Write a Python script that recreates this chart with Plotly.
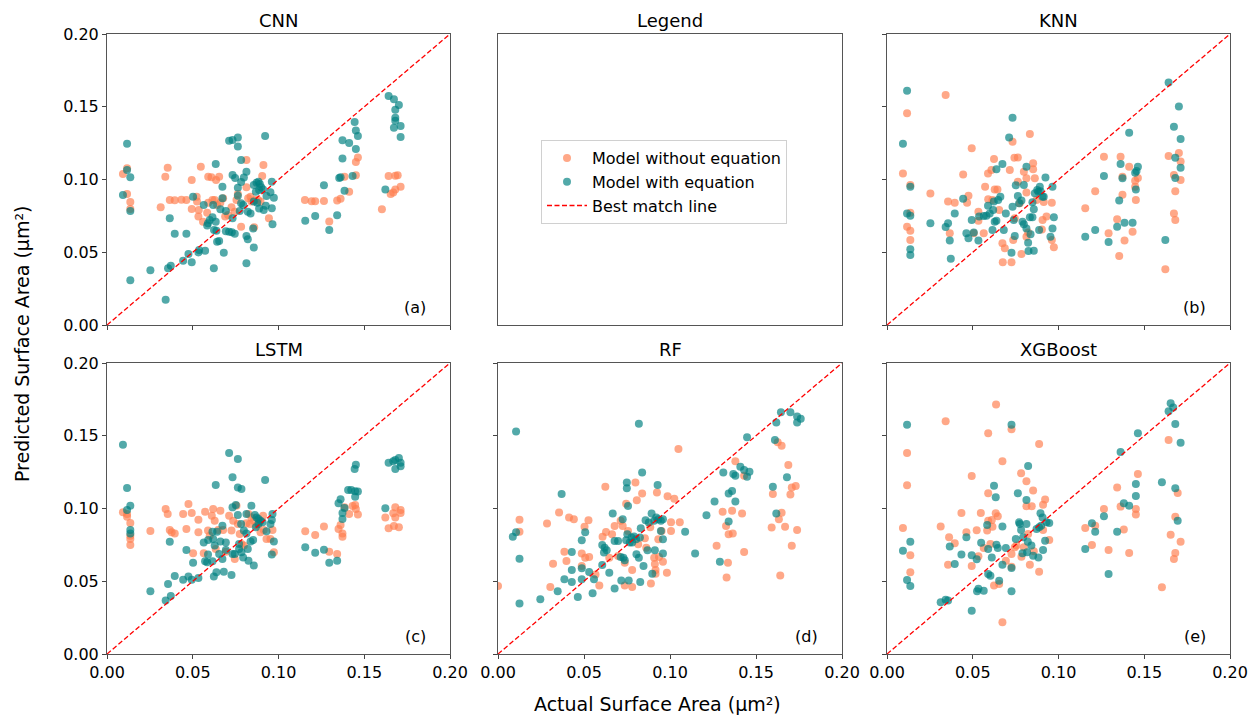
import plotly.graph_objects as go

# ---------------------------------------------------------------------------
# Predicted vs actual surface area (µm²) for each model.
# Each list holds (actual, predicted) pairs.
# ---------------------------------------------------------------------------
cnn_without = [
    (0.0093, 0.1038), (0.0117, 0.1077), (0.0117, 0.090), (0.0136, 0.0845), (0.0136, 0.0797),
    (0.0313, 0.0809), (0.034, 0.1019), (0.0354, 0.1081), (0.0366, 0.0859), (0.0395, 0.0857),
    (0.0434, 0.0861), (0.0463, 0.0859), (0.0494, 0.0997), (0.0494, 0.0797), (0.0523, 0.0882),
    (0.0525, 0.0848), (0.0535, 0.079), (0.0533, 0.0745), (0.0547, 0.1088), (0.056, 0.071),
    (0.0584, 0.0772), (0.059, 0.1019), (0.0609, 0.1015), (0.059, 0.0841), (0.0615, 0.0859),
    (0.0628, 0.0859), (0.0636, 0.0997), (0.0654, 0.1019), (0.0642, 0.0825), (0.0661, 0.0841),
    (0.0677, 0.0871), (0.0689, 0.0745), (0.0706, 0.0756), (0.0726, 0.0809), (0.0745, 0.0779),
    (0.0755, 0.0859), (0.0763, 0.090), (0.0782, 0.0676), (0.0813, 0.1134), (0.0813, 0.0946),
    (0.0823, 0.0871), (0.0837, 0.0882), (0.0842, 0.0848), (0.0862, 0.0859), (0.0881, 0.0859),
    (0.0895, 0.0848), (0.0905, 0.1024), (0.0912, 0.110), (0.0944, 0.0733), (0.0858, 0.0671),
    (0.1154, 0.0859), (0.1193, 0.085), (0.1214, 0.085), (0.1265, 0.0852), (0.1296, 0.0712),
    (0.1342, 0.0855), (0.1362, 0.0868), (0.1385, 0.1019), (0.1412, 0.0916), (0.1451, 0.112),
    (0.1463, 0.1152), (0.1451, 0.1029), (0.1603, 0.0795), (0.1642, 0.1024), (0.1681, 0.1026),
    (0.1695, 0.1029), (0.1681, 0.0932), (0.1654, 0.090), (0.1669, 0.091), (0.1712, 0.0951),
]
cnn_with = [
    (0.0117, 0.1246), (0.0117, 0.1065), (0.0136, 0.1015), (0.0093, 0.0893), (0.0136, 0.0784),
    (0.0136, 0.0307), (0.0253, 0.0376), (0.0342, 0.0174), (0.0356, 0.039), (0.0372, 0.0408),
    (0.0366, 0.0733), (0.0395, 0.0628), (0.0463, 0.0628), (0.0444, 0.0442), (0.0475, 0.0488),
    (0.0494, 0.0431), (0.0502, 0.0882), (0.0533, 0.0499), (0.0537, 0.0515), (0.0572, 0.0511),
    (0.0623, 0.039), (0.0564, 0.0825), (0.0589, 0.0699), (0.0584, 0.0683), (0.0599, 0.0722),
    (0.0615, 0.074), (0.0619, 0.0825), (0.0634, 0.071), (0.0638, 0.0648), (0.0624, 0.0653),
    (0.0642, 0.0573), (0.0654, 0.0577), (0.0634, 0.1107), (0.0673, 0.0951), (0.0673, 0.0871),
    (0.0681, 0.0497), (0.0661, 0.0795), (0.0693, 0.0784), (0.0693, 0.0644), (0.0712, 0.1267),
    (0.0732, 0.1271), (0.0763, 0.1288), (0.0763, 0.1226), (0.0732, 0.1031), (0.0747, 0.101),
    (0.0712, 0.0641), (0.0728, 0.0637), (0.0745, 0.0628), (0.0732, 0.0733), (0.0782, 0.1134),
    (0.0798, 0.1013), (0.0813, 0.1054), (0.0782, 0.0983), (0.0763, 0.0944), (0.0763, 0.0889),
    (0.0782, 0.0836), (0.0774, 0.0784), (0.0794, 0.0825), (0.0813, 0.0612), (0.0821, 0.0589),
    (0.0813, 0.0424), (0.0821, 0.0779), (0.0837, 0.0767), (0.0856, 0.0962), (0.0872, 0.0978),
    (0.0883, 0.0985), (0.0891, 0.0969), (0.0899, 0.0946), (0.0887, 0.0928), (0.091, 0.0932),
    (0.0868, 0.0916), (0.0856, 0.0848), (0.0876, 0.0841), (0.0922, 0.1299), (0.093, 0.0887),
    (0.0961, 0.0985), (0.0953, 0.0912), (0.0973, 0.0875), (0.0961, 0.0802), (0.0965, 0.0692),
    (0.0887, 0.080), (0.0914, 0.079), (0.0926, 0.082), (0.0852, 0.0664), (0.0856, 0.0532),
    (0.1156, 0.0717), (0.1214, 0.0749), (0.1265, 0.096), (0.1296, 0.0653), (0.1342, 0.0754),
    (0.1354, 0.101), (0.1362, 0.1015), (0.1373, 0.1145), (0.1373, 0.1269), (0.1385, 0.0923),
    (0.1412, 0.1251), (0.1432, 0.1024), (0.1444, 0.1395), (0.1451, 0.1336), (0.1451, 0.121),
    (0.1463, 0.1299), (0.1623, 0.0932), (0.1642, 0.1574), (0.1673, 0.1551), (0.1702, 0.1512),
    (0.1681, 0.148), (0.1681, 0.1425), (0.1681, 0.1404), (0.1673, 0.1356), (0.1712, 0.1368),
    (0.1712, 0.1292),
]

knn_without = [
    (0.0117, 0.1455), (0.0093, 0.1042), (0.0136, 0.0962), (0.0136, 0.0772), (0.0117, 0.0676),
    (0.0136, 0.0648), (0.0136, 0.0584), (0.0253, 0.0903), (0.0342, 0.1581), (0.0356, 0.0848),
    (0.0366, 0.063), (0.0395, 0.0841), (0.0444, 0.1035), (0.0467, 0.0841), (0.0475, 0.0889),
    (0.0494, 0.1214), (0.0506, 0.063), (0.0533, 0.0717), (0.0533, 0.0779), (0.0564, 0.063),
    (0.0572, 0.0951), (0.0589, 0.1042), (0.059, 0.0864), (0.0615, 0.0859), (0.0624, 0.1141),
    (0.0628, 0.0932), (0.0644, 0.0932), (0.0654, 0.079), (0.0609, 0.1065), (0.0673, 0.0561),
    (0.0687, 0.0527), (0.0675, 0.0431), (0.0726, 0.0431), (0.0716, 0.1065), (0.0732, 0.126),
    (0.0743, 0.115), (0.0763, 0.1152), (0.0745, 0.0733), (0.0736, 0.0584), (0.0763, 0.0985),
    (0.0774, 0.0836), (0.0784, 0.0488), (0.0798, 0.1054), (0.0813, 0.1008), (0.0813, 0.091),
    (0.0813, 0.0607), (0.0823, 0.0635), (0.0833, 0.1313), (0.0852, 0.1111), (0.0852, 0.107),
    (0.0862, 0.1008), (0.0872, 0.0859), (0.0907, 0.0722), (0.0914, 0.0845), (0.093, 0.0745),
    (0.0961, 0.0841), (0.0961, 0.0584), (0.0973, 0.0534), (0.0903, 0.0657),
    (0.1156, 0.0802), (0.1214, 0.0919), (0.1265, 0.1157), (0.1292, 0.063), (0.1342, 0.0726),
    (0.1354, 0.0474), (0.1362, 0.1157), (0.1373, 0.1019), (0.1373, 0.0896), (0.1385, 0.058),
    (0.1412, 0.1088), (0.1432, 0.0641), (0.1447, 0.0992), (0.1447, 0.0951), (0.1451, 0.0859),
    (0.1463, 0.101), (0.1623, 0.0383), (0.1642, 0.1162), (0.1673, 0.1031), (0.1681, 0.0919),
    (0.1673, 0.0767), (0.1681, 0.0722), (0.1702, 0.1182), (0.1712, 0.1123), (0.1712, 0.0997),
]
knn_with = [
    (0.0117, 0.161), (0.0093, 0.1246), (0.0136, 0.0951), (0.0117, 0.0767), (0.0136, 0.0751),
    (0.0136, 0.052), (0.0136, 0.0481), (0.0253, 0.0699), (0.0342, 0.0674), (0.0356, 0.0699),
    (0.0366, 0.058), (0.0372, 0.0456), (0.0395, 0.0767), (0.0444, 0.0868), (0.0463, 0.063),
    (0.0475, 0.0596), (0.0494, 0.0722), (0.0506, 0.0635), (0.0533, 0.058), (0.0537, 0.0745),
    (0.0564, 0.0749), (0.058, 0.0751), (0.0589, 0.082), (0.0599, 0.0767), (0.0619, 0.079),
    (0.0623, 0.0848), (0.0638, 0.107), (0.0628, 0.071), (0.0638, 0.0717), (0.0615, 0.0653),
    (0.0648, 0.0859), (0.0661, 0.0882), (0.0673, 0.1107), (0.0681, 0.0653), (0.0693, 0.0767),
    (0.0712, 0.1288), (0.0732, 0.1425), (0.0726, 0.0497), (0.0732, 0.0813), (0.0745, 0.0612),
    (0.0739, 0.0722), (0.0751, 0.096), (0.0763, 0.0887), (0.077, 0.0836), (0.0784, 0.0855),
    (0.0798, 0.0962), (0.079, 0.071), (0.0798, 0.0692), (0.0813, 0.1088), (0.0813, 0.0664),
    (0.0823, 0.0566), (0.0825, 0.0509), (0.0833, 0.074), (0.0837, 0.0623), (0.0856, 0.0511),
    (0.0848, 0.0843), (0.0856, 0.0795), (0.0862, 0.0905), (0.0876, 0.0928), (0.0883, 0.0916),
    (0.0891, 0.0951), (0.0895, 0.0919), (0.0907, 0.0882), (0.0924, 0.1013), (0.0914, 0.0882),
    (0.0887, 0.0653), (0.0848, 0.074), (0.0965, 0.0951), (0.0965, 0.0664), (0.0973, 0.074),
    (0.0953, 0.0607),
    (0.1156, 0.0607), (0.1214, 0.0653), (0.1265, 0.1024), (0.1292, 0.057), (0.1342, 0.0676),
    (0.1354, 0.0855), (0.1362, 0.1107), (0.1373, 0.1008), (0.1385, 0.0703), (0.1412, 0.1322),
    (0.1432, 0.0703), (0.1447, 0.1047), (0.1451, 0.0932), (0.1455, 0.1058), (0.1463, 0.1088),
    (0.1623, 0.0584), (0.1642, 0.1666), (0.1702, 0.1501), (0.1673, 0.1363), (0.1712, 0.1278),
    (0.1681, 0.115), (0.1712, 0.1081), (0.1681, 0.101),
]

lstm_without = [
    (0.0093, 0.0974), (0.0117, 0.0962), (0.0117, 0.0944), (0.0136, 0.090), (0.0136, 0.0813),
    (0.0136, 0.079), (0.0136, 0.0749), (0.0253, 0.0845), (0.0342, 0.0997), (0.0354, 0.0962),
    (0.0366, 0.0852), (0.0377, 0.0836), (0.0395, 0.0829), (0.0444, 0.0962), (0.0463, 0.0859),
    (0.0475, 0.1031), (0.0494, 0.0969), (0.0502, 0.0692), (0.0533, 0.0923), (0.0533, 0.0836),
    (0.0564, 0.0692), (0.0572, 0.0978), (0.0589, 0.0848), (0.0599, 0.0813), (0.0611, 0.0951),
    (0.0619, 0.0997), (0.0628, 0.0916), (0.0634, 0.0722), (0.0648, 0.0852), (0.0661, 0.0985),
    (0.0677, 0.0852), (0.0693, 0.0703), (0.0712, 0.0951), (0.0726, 0.0848), (0.0736, 0.0916),
    (0.0745, 0.0653), (0.0755, 0.1019), (0.0763, 0.0893), (0.0774, 0.0825), (0.0784, 0.0756),
    (0.0798, 0.0745), (0.0813, 0.0898), (0.0825, 0.0962), (0.0833, 0.0893), (0.0842, 0.0939),
    (0.0856, 0.0916), (0.0872, 0.0882), (0.0883, 0.0893), (0.0895, 0.0836), (0.091, 0.0951),
    (0.0914, 0.0852), (0.093, 0.079), (0.0953, 0.079), (0.0965, 0.0852), (0.0973, 0.0699),
    (0.1156, 0.0843), (0.1214, 0.0818), (0.1265, 0.0877), (0.1296, 0.0703), (0.1342, 0.0687),
    (0.135, 0.0859), (0.1362, 0.0887), (0.1373, 0.0829), (0.1373, 0.0806), (0.1385, 0.1008),
    (0.1412, 0.0962), (0.1432, 0.1017), (0.1447, 0.1024), (0.1451, 0.0997), (0.1463, 0.0958),
    (0.1623, 0.0939), (0.1642, 0.0864), (0.1673, 0.088), (0.1702, 0.0871), (0.1669, 0.0967),
    (0.1681, 0.1008), (0.1712, 0.099), (0.1712, 0.0969), (0.1681, 0.0939),
]
lstm_with = [
    (0.0093, 0.1439), (0.0117, 0.1141), (0.0136, 0.1019), (0.0117, 0.099), (0.0136, 0.0852),
    (0.0136, 0.0829), (0.0253, 0.0431), (0.0342, 0.0367), (0.0356, 0.0481), (0.0372, 0.0399),
    (0.0366, 0.0772), (0.0395, 0.0536), (0.0444, 0.0511), (0.0463, 0.0715), (0.0475, 0.0532),
    (0.0494, 0.0511), (0.0502, 0.0628), (0.0533, 0.0522), (0.0564, 0.0767), (0.0572, 0.0637),
    (0.0584, 0.063), (0.059, 0.0783), (0.0589, 0.0683), (0.0615, 0.0841), (0.0619, 0.079),
    (0.0615, 0.0637), (0.0623, 0.0532), (0.0634, 0.1162), (0.0638, 0.0561), (0.0642, 0.0841),
    (0.0628, 0.0745), (0.0654, 0.0687), (0.0661, 0.0774), (0.0673, 0.0653), (0.0673, 0.0882),
    (0.0681, 0.0566), (0.0693, 0.0767), (0.0693, 0.0715), (0.0712, 0.1381), (0.0732, 0.1214),
    (0.0726, 0.0543), (0.0732, 0.0687), (0.0745, 0.0687), (0.0732, 0.1008), (0.0751, 0.1024),
    (0.0763, 0.134), (0.0763, 0.1145), (0.0784, 0.1134), (0.0763, 0.0955), (0.0782, 0.0893),
    (0.077, 0.0756), (0.077, 0.0722), (0.0784, 0.0699), (0.0794, 0.0664), (0.0798, 0.0848),
    (0.0813, 0.0962), (0.0813, 0.0829), (0.0821, 0.0722), (0.0825, 0.0641), (0.0837, 0.0774),
    (0.0842, 0.1019), (0.0852, 0.0783), (0.0856, 0.0609), (0.0862, 0.0955), (0.0872, 0.0939),
    (0.0883, 0.0928), (0.0895, 0.0916), (0.0907, 0.0905), (0.0883, 0.0893), (0.0868, 0.0871),
    (0.0922, 0.1196), (0.093, 0.0843), (0.0953, 0.0893), (0.0961, 0.0921), (0.0965, 0.0962),
    (0.0973, 0.0774), (0.0961, 0.0683),
    (0.1156, 0.0733), (0.1214, 0.0696), (0.1265, 0.0717), (0.1296, 0.0628), (0.1342, 0.0641),
    (0.135, 0.1036), (0.1362, 0.1063), (0.1373, 0.0969), (0.1373, 0.0928), (0.1385, 0.1003),
    (0.1406, 0.1127), (0.1424, 0.1127), (0.1447, 0.1118), (0.1463, 0.1116), (0.1447, 0.1081),
    (0.1444, 0.1271), (0.1451, 0.1301), (0.1623, 0.1001), (0.1642, 0.1315), (0.1669, 0.1324),
    (0.1681, 0.1333), (0.1702, 0.1347), (0.1712, 0.1315), (0.1712, 0.129), (0.1681, 0.1271),
]

rf_without = [
    (0.0, 0.0467), (0.0125, 0.0922), (0.0125, 0.0841), (0.0285, 0.0897), (0.0304, 0.046),
    (0.032, 0.0621), (0.0355, 0.0972), (0.0386, 0.0703), (0.0398, 0.0639), (0.0413, 0.0938),
    (0.0441, 0.0926), (0.0487, 0.069), (0.0487, 0.0605), (0.0503, 0.0874), (0.0507, 0.0662),
    (0.0526, 0.0919), (0.053, 0.0667), (0.0567, 0.0547), (0.0589, 0.0471), (0.0608, 0.0805),
    (0.0624, 0.1149), (0.0628, 0.0839), (0.0647, 0.0662), (0.0663, 0.0823), (0.0678, 0.088),
    (0.0698, 0.0674), (0.0713, 0.0915), (0.0725, 0.088), (0.0737, 0.0471), (0.0737, 0.0628),
    (0.0745, 0.1032), (0.0756, 0.0846), (0.078, 0.046), (0.078, 0.0577), (0.0799, 0.1179),
    (0.0807, 0.1057), (0.0815, 0.0754), (0.0838, 0.1103), (0.0854, 0.0796), (0.0862, 0.0731),
    (0.0885, 0.0871), (0.0889, 0.0484), (0.0908, 0.0662), (0.0912, 0.0618), (0.0916, 0.0577),
    (0.0916, 0.0552), (0.0924, 0.111), (0.0932, 0.0789), (0.0936, 0.0667), (0.0951, 0.0846),
    (0.0959, 0.0634), (0.0982, 0.0559), (0.0986, 0.1085), (0.1006, 0.0906), (0.1006, 0.0846),
    (0.1025, 0.1067), (0.1049, 0.1409), (0.1057, 0.0906),
    (0.1271, 0.0744), (0.1306, 0.0977), (0.1326, 0.088), (0.1329, 0.0525), (0.1337, 0.0628),
    (0.1341, 0.0823), (0.1361, 0.0984), (0.1365, 0.0828), (0.138, 0.1324), (0.1419, 0.0966),
    (0.1431, 0.0701), (0.1431, 0.1225), (0.1591, 0.0869), (0.1598, 0.1099), (0.1626, 0.1455),
    (0.1649, 0.1432), (0.1633, 0.0926), (0.1641, 0.054), (0.1649, 0.097), (0.1669, 0.0874),
    (0.1688, 0.1299), (0.170, 0.1097), (0.1708, 0.0744), (0.1708, 0.1145), (0.1731, 0.1154),
    (0.1739, 0.0853),
]
rf_with = [
    (0.0105, 0.153), (0.0086, 0.0805), (0.0105, 0.0837), (0.0125, 0.0655), (0.0125, 0.0347),
    (0.0246, 0.0377), (0.0347, 0.0432), (0.037, 0.1099), (0.0386, 0.0513), (0.0429, 0.0701),
    (0.0429, 0.0577), (0.0429, 0.0494), (0.0464, 0.0391), (0.0487, 0.0782), (0.0487, 0.0589),
    (0.0487, 0.0513), (0.0507, 0.0837), (0.053, 0.0563), (0.055, 0.0418), (0.0558, 0.0513),
    (0.0606, 0.0611), (0.0606, 0.0749), (0.062, 0.0731), (0.0632, 0.0713), (0.0616, 0.0697),
    (0.0647, 0.0559), (0.0667, 0.0966), (0.0678, 0.0777), (0.0678, 0.0451), (0.0698, 0.0777),
    (0.0713, 0.0667), (0.0717, 0.0506), (0.0725, 0.0926), (0.0729, 0.0662), (0.0737, 0.0644),
    (0.0745, 0.0782), (0.0749, 0.1179), (0.0749, 0.114), (0.0756, 0.1018), (0.0752, 0.0823),
    (0.076, 0.0506), (0.0766, 0.0766), (0.0776, 0.080), (0.078, 0.0766), (0.0791, 0.0807),
    (0.0803, 0.0789), (0.0819, 0.1582), (0.0825, 0.080), (0.083, 0.0864), (0.0805, 0.0685),
    (0.0819, 0.0662), (0.0827, 0.0494), (0.0838, 0.1248), (0.0846, 0.0605), (0.0858, 0.0919),
    (0.0869, 0.0713), (0.0877, 0.0903), (0.0893, 0.0966), (0.0897, 0.0552), (0.0908, 0.0915),
    (0.092, 0.0938), (0.0932, 0.0926), (0.0928, 0.1161), (0.0947, 0.0915), (0.0959, 0.0926),
    (0.0947, 0.0846), (0.0959, 0.0789), (0.0959, 0.069), (0.0912, 0.0713),
    (0.1088, 0.0841), (0.1146, 0.069), (0.1212, 0.0954), (0.1259, 0.1048), (0.129, 0.0634),
    (0.131, 0.1248), (0.1341, 0.091), (0.1341, 0.1103), (0.1361, 0.1121), (0.1368, 0.1237),
    (0.138, 0.1225), (0.138, 0.1048), (0.1409, 0.1287), (0.1431, 0.1264), (0.1448, 0.1218),
    (0.1462, 0.1252), (0.1448, 0.1489), (0.1598, 0.1149), (0.161, 0.1471), (0.1618, 0.0966),
    (0.1618, 0.1591), (0.1645, 0.1662), (0.168, 0.1214), (0.170, 0.1662), (0.1739, 0.1632),
    (0.176, 0.1616), (0.1739, 0.1591),
]

xgb_without = [
    (0.0093, 0.0866), (0.0117, 0.1381), (0.0117, 0.1159), (0.0136, 0.0678), (0.0136, 0.0561),
    (0.0313, 0.0877), (0.0342, 0.1599), (0.0362, 0.0802), (0.0356, 0.0614), (0.0395, 0.0761),
    (0.0434, 0.0969), (0.0463, 0.0836), (0.0494, 0.1223), (0.0494, 0.0605), (0.0523, 0.085),
    (0.0533, 0.0671), (0.0547, 0.0969), (0.0564, 0.0728), (0.0584, 0.0848), (0.059, 0.1517),
    (0.059, 0.1104), (0.059, 0.0916), (0.0611, 0.0921), (0.0603, 0.0756), (0.0615, 0.0875),
    (0.0624, 0.047), (0.0634, 0.0967), (0.0636, 0.1714), (0.0646, 0.0946), (0.0654, 0.0481),
    (0.0673, 0.1324), (0.0673, 0.0218), (0.0693, 0.0641), (0.0726, 0.1544), (0.0726, 0.0687),
    (0.0726, 0.060), (0.0745, 0.0733), (0.0755, 0.0745), (0.0782, 0.1242), (0.0784, 0.0669),
    (0.0798, 0.0733), (0.0813, 0.1187), (0.0813, 0.1015), (0.0823, 0.0825), (0.0833, 0.0614),
    (0.0844, 0.1015), (0.0852, 0.1123), (0.0856, 0.0706), (0.0887, 0.1443), (0.0887, 0.0566),
    (0.091, 0.1026), (0.0922, 0.1061), (0.091, 0.0852), (0.0946, 0.0783),
    (0.1156, 0.0866), (0.1195, 0.0749), (0.1214, 0.0882), (0.1265, 0.0997), (0.1292, 0.0715),
    (0.1342, 0.1145), (0.1362, 0.1013), (0.1381, 0.0855), (0.1412, 0.0694), (0.1451, 0.0997),
    (0.1451, 0.0958), (0.1463, 0.1237), (0.1603, 0.0458), (0.1642, 0.1471), (0.1654, 0.082),
    (0.1681, 0.0944), (0.1695, 0.1107), (0.1681, 0.0694), (0.1673, 0.0653), (0.1712, 0.0772),
]
xgb_with = [
    (0.0117, 0.1576), (0.0093, 0.071), (0.0136, 0.0772), (0.0117, 0.0509), (0.0136, 0.0467),
    (0.0313, 0.0355), (0.0342, 0.0373), (0.0356, 0.0367), (0.0366, 0.0738), (0.0395, 0.0619),
    (0.0434, 0.0683), (0.0463, 0.0802), (0.0494, 0.0298), (0.0494, 0.0678), (0.0523, 0.0651),
    (0.0525, 0.0431), (0.0533, 0.0449), (0.0549, 0.0765), (0.0564, 0.0435), (0.0584, 0.0887),
    (0.059, 0.0722), (0.059, 0.055), (0.0603, 0.0538), (0.0611, 0.0664), (0.0624, 0.1157),
    (0.0634, 0.1077), (0.0638, 0.0751), (0.0646, 0.0728), (0.0654, 0.0504), (0.0673, 0.0877),
    (0.0673, 0.0614), (0.0693, 0.0728), (0.0726, 0.1576), (0.0726, 0.0591), (0.0726, 0.0431),
    (0.0751, 0.079), (0.0763, 0.1104), (0.077, 0.0905), (0.0774, 0.0893), (0.0782, 0.0852),
    (0.079, 0.0692), (0.0794, 0.0802), (0.0813, 0.1058), (0.0813, 0.0893), (0.0821, 0.0772),
    (0.0823, 0.1292), (0.0817, 0.0699), (0.0842, 0.0745), (0.0852, 0.0676), (0.0872, 0.0859),
    (0.0883, 0.0664), (0.0887, 0.0871), (0.0895, 0.0967), (0.0899, 0.0882), (0.0907, 0.0939),
    (0.091, 0.0715), (0.0922, 0.0779), (0.093, 0.0905), (0.0946, 0.090),
    (0.1156, 0.0722), (0.1195, 0.0898), (0.1214, 0.0841), (0.1265, 0.0946), (0.1292, 0.055),
    (0.1342, 0.0841), (0.1362, 0.1388), (0.1381, 0.1036), (0.1412, 0.1019), (0.1451, 0.1168),
    (0.1451, 0.1086), (0.1463, 0.1517), (0.1603, 0.118), (0.1642, 0.1668), (0.1654, 0.1723),
    (0.1669, 0.1695), (0.1681, 0.1581), (0.1712, 0.1452), (0.1681, 0.1139), (0.1695, 0.0916),
]

# Panel layout: (title, label, without-eq data, with-eq data, row, col)
panels = [
    ("CNN", "(a)", cnn_without, cnn_with, 0, 0),
    ("KNN", "(b)", knn_without, knn_with, 0, 2),
    ("LSTM", "(c)", lstm_without, lstm_with, 1, 0),
    ("RF", "(d)", rf_without, rf_with, 1, 1),
    ("XGBoost", "(e)", xgb_without, xgb_with, 1, 2),
]
legend_cell = ("Legend", 0, 1)

axis_limits = [0.0, 0.2]
tick_values = [0.0, 0.05, 0.10, 0.15, 0.20]
tick_labels = ["0.00", "0.05", "0.10", "0.15", "0.20"]

W, H = 1252, 715
col_px = [(107, 450), (498, 842), (887, 1230)]
row_px = [(34, 325), (363, 654)]

COLOR_WITHOUT = "rgba(255,127,80,0.68)"
COLOR_WITH = "rgba(0,128,128,0.68)"
FONT = "DejaVu Sans"

fig = go.Figure()
annotations = []


def axis_names(idx):
    return ("x" if idx == 1 else f"x{idx}"), ("y" if idx == 1 else f"y{idx}")


def style_axis(domain, anchor, show_labels, show_ticks):
    return dict(
        domain=domain, anchor=anchor, range=axis_limits,
        tickvals=tick_values, ticktext=tick_labels,
        showticklabels=show_labels,
        ticks="outside" if show_ticks else "", ticklen=4, tickwidth=1, tickcolor="#444",
        showline=True, mirror=True, linecolor="#555", linewidth=1,
        showgrid=False, zeroline=False, automargin=False,
        tickfont=dict(family=FONT, size=16, color="black"),
        fixedrange=True,
    )


cells = [(p[4], p[5]) for p in panels]
all_cells = sorted(cells + [(legend_cell[1], legend_cell[2])])
idx_of = {cell: i + 1 for i, cell in enumerate(all_cells)}

layout_axes = {}
for (r, c), idx in idx_of.items():
    xn, yn = axis_names(idx)
    x0, x1 = col_px[c]
    y0, y1 = row_px[r]
    xdom = [x0 / W, x1 / W]
    ydom = [1 - y1 / H, 1 - y0 / H]
    is_legend_cell = (r, c) == (legend_cell[1], legend_cell[2])
    layout_axes["xaxis" if idx == 1 else f"xaxis{idx}"] = style_axis(
        xdom, yn, show_labels=(r == 1), show_ticks=not is_legend_cell)
    layout_axes["yaxis" if idx == 1 else f"yaxis{idx}"] = style_axis(
        ydom, xn, show_labels=(c == 0), show_ticks=not is_legend_cell)

first = True
for title, label, without, with_eq, r, c in panels:
    idx = idx_of[(r, c)]
    xn, yn = axis_names(idx)
    fig.add_trace(go.Scatter(
        x=[p[0] for p in without], y=[p[1] for p in without],
        mode="markers", name="Model without equation",
        marker=dict(color=COLOR_WITHOUT, size=8, line=dict(width=0)),
        xaxis=xn, yaxis=yn, showlegend=first, legendrank=1,
    ))
    fig.add_trace(go.Scatter(
        x=[p[0] for p in with_eq], y=[p[1] for p in with_eq],
        mode="markers", name="Model with equation",
        marker=dict(color=COLOR_WITH, size=8, line=dict(width=0)),
        xaxis=xn, yaxis=yn, showlegend=first, legendrank=2,
    ))
    fig.add_trace(go.Scatter(
        x=axis_limits, y=axis_limits, mode="lines", name="Best match line",
        line=dict(color="red", width=1.3, dash="5px,2.5px"),
        xaxis=xn, yaxis=yn, showlegend=first, legendrank=3,
    ))
    first = False
    annotations.append(dict(
        text=title, xref=f"{xn} domain", yref=f"{yn} domain", x=0.5, y=1.0,
        xanchor="center", yanchor="bottom", yshift=1, showarrow=False,
        font=dict(family=FONT, size=18, color="black"),
    ))
    annotations.append(dict(
        text=label, xref=f"{xn} domain", yref=f"{yn} domain", x=0.935, y=0.02,
        xanchor="right", yanchor="bottom", showarrow=False,
        font=dict(family=FONT, size=16, color="black"),
    ))

# Empty cell that holds the legend
lidx = idx_of[(legend_cell[1], legend_cell[2])]
lxn, lyn = axis_names(lidx)
fig.add_trace(go.Scatter(x=[None], y=[None], xaxis=lxn, yaxis=lyn,
                         showlegend=False, hoverinfo="skip"))
annotations.append(dict(
    text=legend_cell[0], xref=f"{lxn} domain", yref=f"{lyn} domain", x=0.5, y=1.0,
    xanchor="center", yanchor="bottom", yshift=1, showarrow=False,
    font=dict(family=FONT, size=18, color="black"),
))

# Shared axis titles
annotations.append(dict(
    text="Predicted Surface Area (μm²)", xref="paper", yref="paper",
    x=22 / W, y=1 - 344 / H, textangle=-90, showarrow=False,
    xanchor="center", yanchor="middle",
    font=dict(family=FONT, size=19, color="black"),
))
annotations.append(dict(
    text="Actual Surface Area (μm²)", xref="paper", yref="paper",
    x=657 / W, y=1 - 704 / H, showarrow=False,
    xanchor="center", yanchor="middle",
    font=dict(family=FONT, size=19, color="black"),
))

fig.update_layout(
    width=W, height=H,
    margin=dict(l=0, r=0, t=0, b=0, autoexpand=False),
    paper_bgcolor="white", plot_bgcolor="white",
    font=dict(family=FONT, color="black"),
    annotations=annotations,
    legend=dict(
        x=541 / W, y=1 - 140 / H, xanchor="left", yanchor="top",
        bgcolor="white", bordercolor="#d0d0d0", borderwidth=1,
        font=dict(family=FONT, size=16, color="black"),
        tracegroupgap=0, itemwidth=40,
    ),
    **layout_axes,
)

fig.write_html("out.html")
